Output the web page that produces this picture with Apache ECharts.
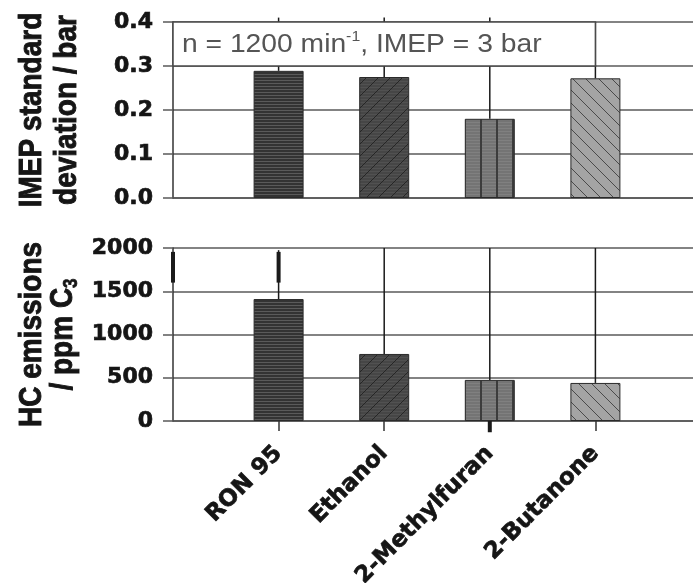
<!DOCTYPE html>
<html>
<head>
<meta charset="utf-8">
<script src="https://cdn.jsdelivr.net/npm/echarts@6/dist/echarts.min.js"></script>
<style>html,body{margin:0;padding:0;background:#fff;}#c{width:693px;height:583px;}</style>
</head>
<body>
<div id="c"></div>
<script>
// ---- data ----
const categories = ['', 'RON 95', 'Ethanol', '2-Methylfuran', '2-Butanone', ''];
const imepStd = [null, 0.289, 0.275, 0.180, 0.272, null];
const imepErrTop = [null, 0.41, 0.41, 0.41, 0.40, null];
const hcEmissions = [null, 1410, 775, 475, 440, null];
const hcErrTop = [null, 1975, 2000, 2000, 2000, null];
const hcThickLow = [1600, 1600, null, -130, null, null];
const hcThickHigh = [1955, 1955, null, 0, null, null];
const imepTicks = { min: 0, max: 0.4, interval: 0.1 };
const hcTicks = { min: 0, max: 2000, interval: 500 };
const imepTitle = ['IMEP standard', 'deviation / bar'];
const hcTitle = ['HC emissions', '/ ppm C{sub|3}'];
const conditionText = 'n = 1200 min{sup|-1}, IMEP = 3 bar';

// ---- patterns ----
function makeTile(w, h, draw) {
  const c = document.createElement('canvas');
  c.width = w; c.height = h;
  const g = c.getContext('2d');
  draw(g, w, h);
  return { image: c, repeat: 'repeat' };
}
const pRON = makeTile(4, 3, (g, w, h) => {
  g.fillStyle = '#333333'; g.fillRect(0, 0, w, h);
  g.fillStyle = '#5a5a5a'; g.fillRect(0, 2, w, 1);
});
const pEth = makeTile(12, 12, (g, w, h) => {
  g.fillStyle = '#464646'; g.fillRect(0, 0, w, h);
  g.fillStyle = '#515151';
  for (let y = 0; y < h; y += 3) g.fillRect(0, y, w, 1);
  g.strokeStyle = '#262626'; g.lineWidth = 1;
  g.beginPath();
  g.moveTo(-1, h + 1); g.lineTo(w + 1, -1);
  g.moveTo(-1, 1); g.lineTo(1, -1);
  g.moveTo(w - 1, h + 1); g.lineTo(w + 1, h - 1);
  g.stroke();
});
const pMF = makeTile(16, 3, (g, w, h) => {
  g.fillStyle = '#747474'; g.fillRect(0, 0, w, h);
  g.fillStyle = '#808080'; g.fillRect(0, 2, w, 1);
  g.fillStyle = '#3c3c3c'; g.fillRect(0, 0, 2, h);
});
const pBut = makeTile(13, 13, (g, w, h) => {
  g.fillStyle = '#a4a4a4'; g.fillRect(0, 0, w, h);
  g.strokeStyle = '#4a4a4a'; g.lineWidth = 1;
  g.beginPath();
  g.moveTo(-1, -1); g.lineTo(w + 1, h + 1);
  g.moveTo(w - 1, -1); g.lineTo(w + 1, 1);
  g.moveTo(-1, h - 1); g.lineTo(1, h + 1);
  g.stroke();
});
const fills = [null, pRON, pEth, pMF, pBut, null];

function barData(vals) {
  return vals.map((v, i) => v == null ? null : {
    value: v,
    itemStyle: { color: fills[i], borderColor: '#2a2a2a', borderWidth: 1 }
  });
}
function errData(lo, hi) {
  const out = [];
  lo.forEach((v, i) => { if (v != null && hi[i] != null) out.push([i, v, hi[i]]); });
  return out;
}
function errSeries(xi, lo, hi, width, z) {
  return {
    type: 'custom', xAxisIndex: xi, yAxisIndex: xi, z: z,
    data: errData(lo, hi),
    encode: { x: 0, y: [1, 2] },
    renderItem: function (params, api) {
      const a = api.coord([api.value(0), api.value(1)]);
      const b = api.coord([api.value(0), api.value(2)]);
      return { type: 'line', shape: { x1: a[0], y1: a[1], x2: b[0], y2: b[1] },
               style: { stroke: '#1a1a1a', lineWidth: width } };
    }
  };
}

const heavy = { textBorderColor: '#151515', textBorderWidth: 0.7 };
const tickFont = Object.assign({ fontFamily: 'DejaVu Sans', fontWeight: 'bold', fontSize: 22, color: '#151515' }, heavy);
const xFont = Object.assign({ fontFamily: 'DejaVu Sans', fontWeight: 'bold', fontSize: 23, color: '#151515' }, heavy);
const gridLine = { show: true, lineStyle: { color: '#5a5a5a', width: 1.5 } };

const chart = echarts.init(document.getElementById('c'), null, { renderer: 'canvas' });
chart.setOption({
  animation: false,
  backgroundColor: '#ffffff',
  grid: [
    { left: 173, top: 22, width: 528, height: 176, outerBoundsMode: 'none', containLabel: false },
    { left: 173, top: 248, width: 528, height: 173, outerBoundsMode: 'none', containLabel: false }
  ],
  xAxis: [
    { gridIndex: 0, type: 'category', data: categories, boundaryGap: false,
      axisLine: { lineStyle: { color: '#555', width: 1.5 } },
      axisTick: { show: false }, axisLabel: { show: false }, splitLine: { show: false } },
    { gridIndex: 1, type: 'category', data: categories, boundaryGap: false,
      axisLine: { lineStyle: { color: '#555', width: 1.5 } },
      axisTick: { show: true, length: 10, lineStyle: { color: '#333', width: 1.5 },
                  interval: (i, v) => v !== '' },
      axisLabel: Object.assign({ rotate: 45, margin: 29, interval: 0, hideOverlap: false }, xFont),
      splitLine: { show: false } }
  ],
  yAxis: [
    { gridIndex: 0, type: 'value', min: imepTicks.min, max: imepTicks.max, interval: imepTicks.interval,
      axisLine: { show: true, lineStyle: { color: '#333', width: 1.5 } },
      axisTick: { show: true, length: 10, lineStyle: { color: '#5a5a5a', width: 1.5 } },
      axisLabel: Object.assign({ margin: 20, formatter: v => v.toFixed(1) }, tickFont),
      splitLine: gridLine },
    { gridIndex: 1, type: 'value', min: hcTicks.min, max: hcTicks.max, interval: hcTicks.interval,
      axisLine: { show: true, lineStyle: { color: '#333', width: 1.5 } },
      axisTick: { show: true, length: 10, lineStyle: { color: '#5a5a5a', width: 1.5 } },
      axisLabel: Object.assign({ margin: 20, formatter: v => String(v) }, tickFont),
      splitLine: gridLine }
  ],
  series: [
    { type: 'bar', xAxisIndex: 0, yAxisIndex: 0, barWidth: 50, data: barData(imepStd), z: 3 },
    errSeries(0, imepStd, imepErrTop, 1.5, 4),
    { type: 'bar', xAxisIndex: 1, yAxisIndex: 1, barWidth: 50, data: barData(hcEmissions), z: 3 },
    errSeries(1, hcEmissions, hcErrTop, 1.5, 4),
    errSeries(1, hcThickLow, hcThickHigh, 4, 5)
  ]
});

// annotation box + axis titles, positioned from the axes
const pTL = chart.convertToPixel({ gridIndex: 0 }, [0, imepTicks.max]);
const pBR = chart.convertToPixel({ gridIndex: 0 }, [4, 0.3]);
const topMid = (chart.convertToPixel({ gridIndex: 0 }, [0, imepTicks.max])[1] + chart.convertToPixel({ gridIndex: 0 }, [0, imepTicks.min])[1]) / 2;
const botMid = (chart.convertToPixel({ gridIndex: 1 }, [0, hcTicks.max])[1] + chart.convertToPixel({ gridIndex: 1 }, [0, hcTicks.min])[1]) / 2;

function titleText(text, x, y) {
  return {
    type: 'text', x: x, y: y, rotation: Math.PI / 2, scaleX: 1, scaleY: 1.15, z: 50,
    style: {
      text: text, fill: '#151515', fontFamily: 'Liberation Sans', fontWeight: 'bold', fontSize: 28,
      align: 'center', verticalAlign: 'middle', lineHeight: 32,
      stroke: '#151515', lineWidth: 0.8,
      rich: { sub: { fontFamily: 'Liberation Sans', fontWeight: 'bold', fontSize: 17, fill: '#151515', stroke: '#151515', lineWidth: 0.6, verticalAlign: 'bottom', lineHeight: 22 } }
    }
  };
}

chart.setOption({
  graphic: [
    { type: 'rect', z: 100,
      shape: { x: pTL[0], y: pTL[1], width: pBR[0] - pTL[0], height: pBR[1] - pTL[1] },
      style: { fill: '#ffffff', stroke: '#4a4a4a', lineWidth: 1.5 } },
    { type: 'text', z: 101, x: pTL[0] + 9, y: (pTL[1] + pBR[1]) / 2 + 1, scaleX: 1.13,
      style: { text: conditionText, fill: '#555555',
               fontFamily: 'Liberation Sans', fontSize: 25, verticalAlign: 'middle',
               rich: { sup: { fontSize: 14, fill: '#555555', fontFamily: 'Liberation Sans', verticalAlign: 'top', lineHeight: 30 } } } },
    titleText(imepTitle[0], 32, topMid),
    titleText(imepTitle[1], 67, topMid),
    titleText(hcTitle[0], 32, botMid),
    titleText(hcTitle[1], 63, botMid)
  ]
});
</script>
</body>
</html>
